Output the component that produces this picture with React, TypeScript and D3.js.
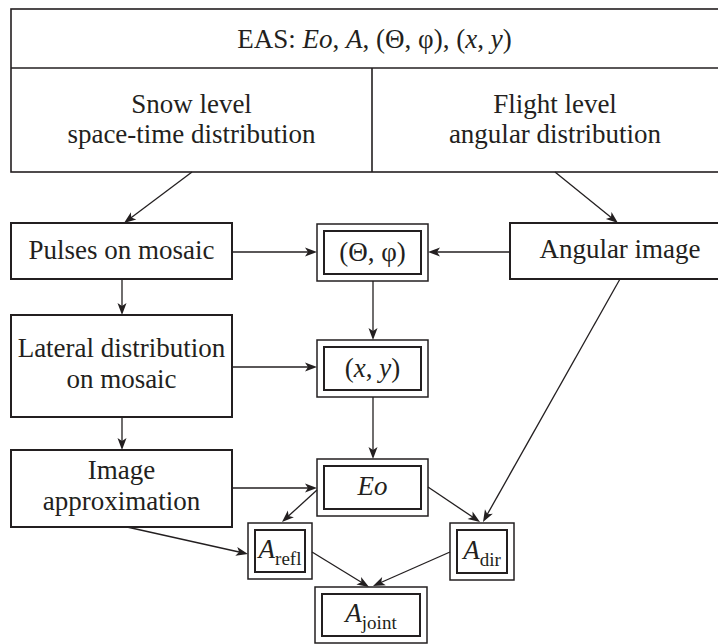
import React from "react";
import * as d3 from "d3";

// ---- content ----
type Seg = { t: string; i?: boolean; sub?: boolean };
const headerTitle: Seg[] = [
  { t: "EAS: " }, { t: "Eo", i: true }, { t: ", " }, { t: "A", i: true },
  { t: ", (Θ, φ), (" }, { t: "x", i: true }, { t: ", " }, { t: "y", i: true }, { t: ")" },
];
const leftHeaderLines = ["Snow level", "space-time distribution"];
const rightHeaderLines = ["Flight level", "angular distribution"];

const nodeIds = ["pulses", "lateral", "approx", "angular", "theta", "xy", "eo", "arefl", "adir", "ajoint"];
const nodeLabels: Seg[][][] = [
  [[{ t: "Pulses on mosaic" }]],
  [[{ t: "Lateral distribution" }], [{ t: "on mosaic" }]],
  [[{ t: "Image" }], [{ t: "approximation" }]],
  [[{ t: "Angular image" }]],
  [[{ t: "(Θ, φ)" }]],
  [[{ t: "(" }, { t: "x", i: true }, { t: ", " }, { t: "y", i: true }, { t: ")" }]],
  [[{ t: "Eo", i: true }]],
  [[{ t: "A", i: true }, { t: "refl", sub: true }]],
  [[{ t: "A", i: true }, { t: "dir", sub: true }]],
  [[{ t: "A", i: true }, { t: "joint", sub: true }]],
];
const nodeDouble = [false, false, false, false, true, true, true, true, true, true];

const edgeFrom = ["snow", "flight", "pulses", "angular", "pulses", "theta", "lateral", "lateral", "xy", "approx", "angular", "approx", "eo", "eo", "arefl", "adir"];
const edgeTo = ["pulses", "angular", "theta", "theta", "lateral", "xy", "xy", "approx", "eo", "eo", "adir", "arefl", "arefl", "adir", "ajoint", "ajoint"];

// ---- layout (positions & sizes) ----
const W = 718, H = 644;
const header = { x0: 11, x1: 738, y0: 9, y1: 172, ySplit: 68, xSplit: 372 };
const boxes: Record<string, { x0: number; x1: number; y0: number; y1: number }> = {
  pulses: { x0: 11, x1: 232, y0: 223, y1: 279 },
  lateral: { x0: 11, x1: 232, y0: 315, y1: 417 },
  approx: { x0: 11, x1: 232, y0: 450, y1: 527 },
  angular: { x0: 510, x1: 730, y0: 223, y1: 279 },
  theta: { x0: 317, x1: 428, y0: 224, y1: 281 },
  xy: { x0: 317, x1: 428, y0: 340, y1: 397 },
  eo: { x0: 317, x1: 428, y0: 459, y1: 516 },
  arefl: { x0: 248, x1: 312, y0: 523, y1: 579 },
  adir: { x0: 450, x1: 514, y0: 523, y1: 580 },
  ajoint: { x0: 315, x1: 427, y0: 587, y1: 643 },
};
const labelPos: Record<string, { cx: number; base: number[] }> = {
  pulses: { cx: 121.5, base: [259] },
  lateral: { cx: 121.5, base: [357, 388] },
  approx: { cx: 121.5, base: [479, 510] },
  angular: { cx: 620, base: [258] },
  theta: { cx: 372.5, base: [261] },
  xy: { cx: 372.5, base: [377] },
  eo: { cx: 372.5, base: [495] },
  arefl: { cx: 280, base: [558] },
  adir: { cx: 482, base: [559] },
  ajoint: { cx: 371, base: [622] },
};
const edgeGeom: [number, number, number, number][] = [
  [192, 172, 124, 223],
  [555, 172, 618, 223],
  [232, 252, 317, 252],
  [510, 252, 428, 252],
  [122, 279, 122, 315],
  [373, 281, 373, 340],
  [232, 367, 317, 367],
  [122, 417, 122, 450],
  [373, 397, 373, 459],
  [232, 488, 317, 488],
  [620, 279, 483, 522],
  [127, 527, 248, 554],
  [317, 490, 282, 522],
  [428, 487, 480, 522],
  [312, 552, 369, 587],
  [450, 552, 373, 586],
];

const INK = "#231f20";
const FONT = "\"Liberation Serif\", \"Times New Roman\", \"DejaVu Serif\", serif";
const FS = 27;
const SUB = 19;
const textStyle: React.CSSProperties = { fontFamily: FONT };

function renderSegs(segs: Seg[]) {
  return segs.map((s, k) => {
    const prevSub = k > 0 && segs[k - 1].sub;
    const dy = s.sub && !prevSub ? 7 : !s.sub && prevSub ? -7 : 0;
    return (
      <tspan key={k} style={{ fontStyle: s.i ? "italic" : "normal", fontSize: s.sub ? SUB : FS }} dy={dy || undefined}>
        {s.t}
      </tspan>
    );
  });
}

function arrowHead(x1: number, y1: number, x2: number, y2: number) {
  const ang = Math.atan2(y2 - y1, x2 - x1);
  const p = d3.path();
  const L = 12, Wd = 4.5, notch = 9;
  const rot = (dx: number, dy: number): [number, number] => [
    x2 + dx * Math.cos(ang) - dy * Math.sin(ang),
    y2 + dx * Math.sin(ang) + dy * Math.cos(ang),
  ];
  const a = rot(0, 0), b = rot(-L, -Wd), c = rot(-notch, 0), e = rot(-L, Wd);
  p.moveTo(a[0], a[1]); p.lineTo(b[0], b[1]); p.lineTo(c[0], c[1]); p.lineTo(e[0], e[1]); p.closePath();
  return p.toString();
}

export default function App() {
  const line = d3.line<[number, number]>();
  return (
    <svg width={W} height={H} style={{ position: "absolute", left: 0, top: 0, background: "#fff" }}>
      <rect x={0} y={0} width={W} height={H} fill="#fff" />
      <rect x={header.x0} y={header.y0} width={header.x1 - header.x0} height={header.y1 - header.y0}
        fill="none" stroke={INK} strokeWidth={1.6} />
      <path d={line([[header.x0, header.ySplit], [header.x1, header.ySplit]]) || ""} stroke={INK} strokeWidth={1.6} />
      <path d={line([[header.xSplit, header.ySplit], [header.xSplit, header.y1]]) || ""} stroke={INK} strokeWidth={1.6} />
      <text x={(header.x0 + header.x1) / 2} y={48} textAnchor="middle" fill={INK} style={{ ...textStyle, fontSize: FS }}>{renderSegs(headerTitle)}</text>
      {leftHeaderLines.map((t, k) => (
        <text key={"l" + k} x={(header.x0 + header.xSplit) / 2} y={113 + k * 30} textAnchor="middle" fill={INK} style={{ ...textStyle, fontSize: FS }}>{t}</text>
      ))}
      {rightHeaderLines.map((t, k) => (
        <text key={"r" + k} x={(header.xSplit + header.x1) / 2} y={113 + k * 30} textAnchor="middle" fill={INK} style={{ ...textStyle, fontSize: FS }}>{t}</text>
      ))}
      {nodeIds.map((id, i) => {
        const b = boxes[id];
        const lp = labelPos[id];
        return (
          <g key={id}>
            <rect x={b.x0} y={b.y0} width={b.x1 - b.x0} height={b.y1 - b.y0} fill="#fff"
              stroke={INK} strokeWidth={nodeDouble[i] ? 1.5 : 2} />
            {nodeDouble[i] && (
              <rect x={b.x0 + 7} y={b.y0 + 7} width={b.x1 - b.x0 - 14} height={b.y1 - b.y0 - 14} fill="none"
                stroke={INK} strokeWidth={2} />
            )}
            {nodeLabels[i].map((segs, k) => (
              <text key={k} x={lp.cx} y={lp.base[k]} textAnchor="middle" fill={INK} style={{ ...textStyle, fontSize: FS }}>{renderSegs(segs)}</text>
            ))}
          </g>
        );
      })}
      {edgeFrom.map((f, i) => {
        const [x1, y1, x2, y2] = edgeGeom[i];
        const ang = Math.atan2(y2 - y1, x2 - x1);
        const ex = x2 - 8 * Math.cos(ang), ey = y2 - 8 * Math.sin(ang);
        return (
          <g key={f + "-" + edgeTo[i] + i}>
            <path d={line([[x1, y1], [ex, ey]]) || ""} stroke={INK} strokeWidth={1.3} fill="none" />
            <path d={arrowHead(x1, y1, x2, y2)} fill={INK} stroke="none" />
          </g>
        );
      })}
    </svg>
  );
}
